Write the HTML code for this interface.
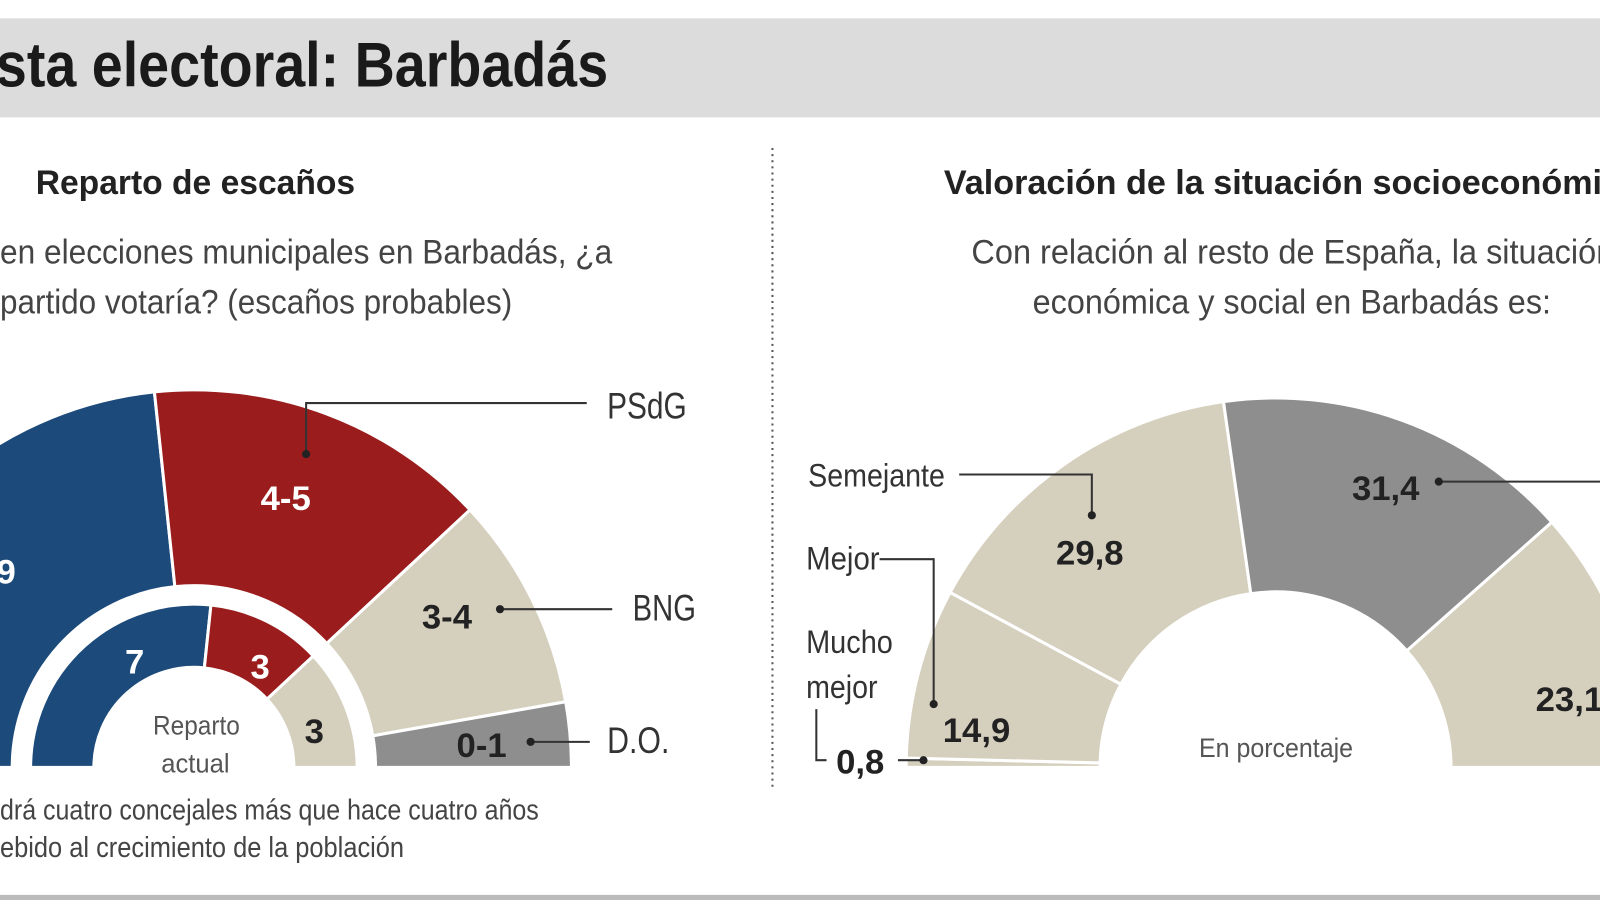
<!DOCTYPE html>
<html><head><meta charset="utf-8"><style>
html,body{margin:0;padding:0;background:#fff;width:1600px;height:900px;overflow:hidden}
svg{display:block}
text{font-family:"Liberation Sans Narrow","Liberation Sans",sans-serif}
</style></head><body>
<svg id="s" width="1600" height="900" viewBox="0 0 1568 882" preserveAspectRatio="none">
<rect x="0" y="18" width="1568" height="97" fill="#dcdcdc"/>
<text x="-4" y="85" font-size="62" font-weight="bold" fill="#1a1a1a" textLength="600" lengthAdjust="spacingAndGlyphs">sta electoral: Barbadás</text>
<line x1="757" y1="145" x2="757" y2="772" stroke="#555" stroke-width="2" stroke-dasharray="2,4"/>
<rect x="0" y="877" width="1568" height="5" fill="#bbb"/>
<g id="arcs"></g>
<g font-size="34" fill="#222">
<text x="35" y="190" font-weight="bold" textLength="313" lengthAdjust="spacingAndGlyphs">Reparto de escaños</text>
<text x="0" y="258" fill="#444" textLength="600" lengthAdjust="spacingAndGlyphs">en elecciones municipales en Barbadás, ¿a</text>
<text x="0" y="307" fill="#444" textLength="502" lengthAdjust="spacingAndGlyphs">partido votaría? (escaños probables)</text>
<text x="925" y="190" font-weight="bold" textLength="645" lengthAdjust="spacingAndGlyphs">Valoración de la situación socioeconómi</text>
<text x="952" y="258" fill="#444" textLength="630" lengthAdjust="spacingAndGlyphs">Con relación al resto de España, la situación</text>
<text x="1012" y="307" fill="#444" textLength="508" lengthAdjust="spacingAndGlyphs">económica y social en Barbadás es:</text>
</g>
<g stroke="#333" stroke-width="2" fill="none">
<polyline points="575,395 300,395 300,445"/>
<line x1="490" y1="597" x2="600" y2="597"/>
<line x1="520" y1="727" x2="578" y2="727"/>
<polyline points="940,465 1070,465 1070,505"/>
<polyline points="862,548 915,548 915,690"/>
<polyline points="800,695 800,745 810,745"/>
<line x1="880" y1="745" x2="905" y2="745"/>
<line x1="1410" y1="472" x2="1568" y2="472"/>
</g>
<g fill="#222"><circle cx="300" cy="445" r="4"/><circle cx="490" cy="597" r="4"/><circle cx="520" cy="727" r="4"/><circle cx="1070" cy="505" r="4"/><circle cx="915" cy="690" r="4"/><circle cx="905" cy="745" r="4"/><circle cx="1410" cy="472" r="4"/></g>
<g font-size="36" fill="#333">
<text x="595" y="410" textLength="78" lengthAdjust="spacingAndGlyphs">PSdG</text><text x="620" y="608" textLength="62" lengthAdjust="spacingAndGlyphs">BNG</text><text x="595" y="738" textLength="61" lengthAdjust="spacingAndGlyphs">D.O.</text>
</g>
<g font-size="32" fill="#333">
<text x="792" y="477" textLength="134" lengthAdjust="spacingAndGlyphs">Semejante</text><text x="790" y="558" textLength="72" lengthAdjust="spacingAndGlyphs">Mejor</text><text x="790" y="640" textLength="85" lengthAdjust="spacingAndGlyphs">Mucho</text><text x="790" y="684" textLength="70" lengthAdjust="spacingAndGlyphs">mejor</text>
</g>
<g font-size="34" font-weight="bold" text-anchor="middle">
<text x="6" y="572" fill="#fff">9</text>
<text x="280" y="500" fill="#fff">4-5</text>
<text x="438" y="616" fill="#222">3-4</text>
<text x="472" y="742" fill="#222">0-1</text>
<text x="132" y="660" fill="#fff">7</text>
<text x="255" y="665" fill="#fff">3</text>
<text x="308" y="728" fill="#222">3</text>
<text x="843" y="758" fill="#222">0,8</text>
<text x="1068" y="553" fill="#222">29,8</text>
<text x="957" y="727" fill="#222">14,9</text>
<text x="1358" y="490" fill="#222">31,4</text>
<text x="1538" y="697" fill="#222">23,1</text>
</g>
<g font-size="26" fill="#555">
<text x="150" y="720" textLength="85" lengthAdjust="spacingAndGlyphs">Reparto</text><text x="158" y="757" textLength="67" lengthAdjust="spacingAndGlyphs">actual</text>
<text x="1175" y="742" textLength="151" lengthAdjust="spacingAndGlyphs">En porcentaje</text>
</g>
<g font-size="28" fill="#444">
<text x="0" y="803" textLength="528" lengthAdjust="spacingAndGlyphs">drá cuatro concejales más que hace cuatro años</text>
<text x="0" y="840" textLength="396" lengthAdjust="spacingAndGlyphs">ebido al crecimiento de la población</text>
</g>
</svg>
<script>
var g=document.getElementById('arcs');
function seg(cx,cy,r1,r2,a1,a2,col){
 function p(r,a){a=a*Math.PI/180;return [cx+r*Math.cos(a),cy-r*Math.sin(a)];}
 var A=p(r2,a1),B=p(r2,a2),C=p(r1,a2),D=p(r1,a1);
 var d='M'+A+' A'+r2+','+r2+' 0 0 1 '+B+' L'+C+' A'+r1+','+r1+' 0 0 0 '+D+' Z';
 var e=document.createElementNS('http://www.w3.org/2000/svg','path');
 e.setAttribute('d',d);e.setAttribute('fill',col);e.setAttribute('stroke','#fff');e.setAttribute('stroke-width','3');
 g.appendChild(e);
}
var B='#1c4a7a',R='#9b1c1c',T='#d5cfbd',G='#8e8e8e';
seg(190,752,178,370,180,96,B);seg(190,752,178,370,96,43,R);seg(190,752,178,370,43,10,T);seg(190,752,178,370,10,0,G);
seg(190,752,98,160,180,84,B);seg(190,752,98,160,84,43,R);seg(190,752,98,160,43,0,T);
var v=[[0.8,T],[14.9,T],[29.8,T],[31.4,G],[23.1,T]],a=180;
v.forEach(function(x){var b=a-x[0]*1.8;seg(1250,752,172,362,a,Math.max(b,0),x[1]);a=b;});
</script>
</body></html>
